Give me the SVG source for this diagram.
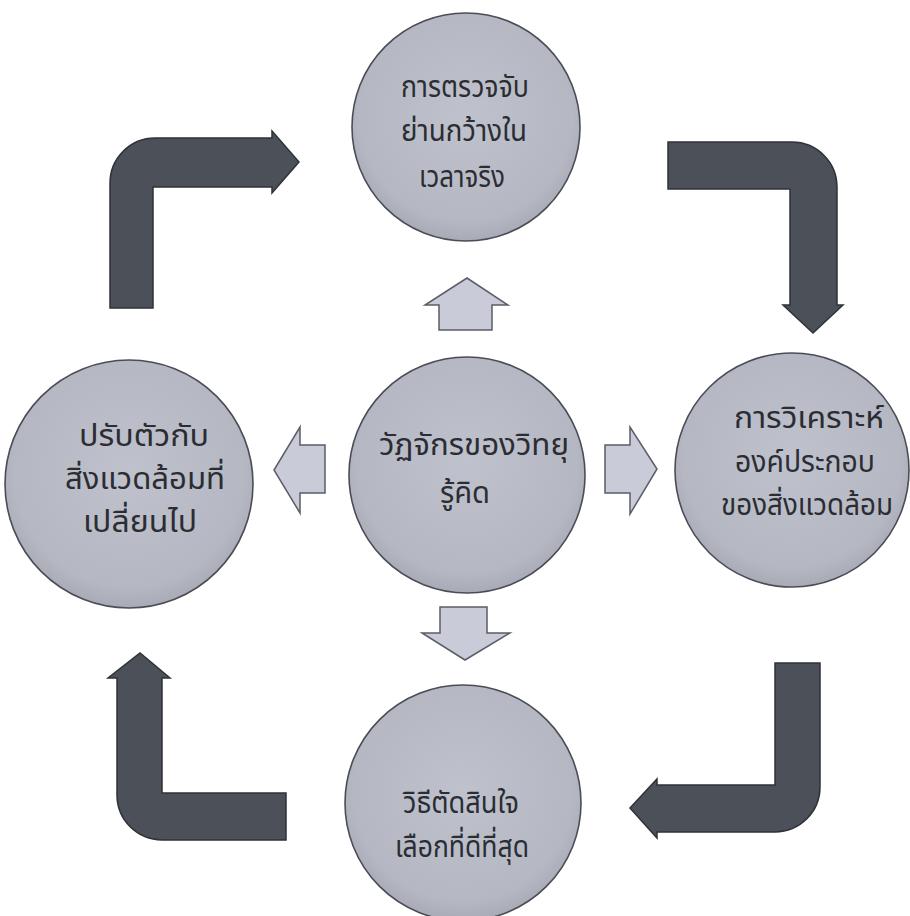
<svg xmlns="http://www.w3.org/2000/svg" width="910" height="916" viewBox="0 0 910 916">
  <defs>
    <radialGradient id="ballFill" cx="50%" cy="45%" r="55%">
      <stop offset="0" stop-color="#bfc2cc"/>
      <stop offset="0.85" stop-color="#b5b8c2"/>
      <stop offset="1" stop-color="#a8abb5"/>
    </radialGradient>
  </defs>
  <style>
    .ball { fill: url(#ballFill); stroke: #4a4d55; stroke-width: 1.6; }
    .label { font-family: "Noto Sans Thai", "Leelawadee UI", Tahoma, "Noto Sans", sans-serif; font-size: 30px; fill: #2b2d33; text-anchor: middle; }
    .bend { fill: #4c5159; stroke: #2f3238; stroke-width: 1.5; stroke-linejoin: miter; }
    .block { fill: #c9cbd9; stroke: #5a5d66; stroke-width: 1.5; stroke-linejoin: miter; }
  </style>
  <rect width="910" height="916" fill="#ffffff"/>

  <!-- connectors: outer cycle of bent arrows and the four spokes from the hub -->
  <g id="connectors">
    <path class="bend" d="M110 308 L110 183 A45 45 0 0 1 155 138 L272 138 L272 131 L299 162 L272 193 L272 187 L153 187 L153 308 Z"/>
    <path class="bend" d="M668 142 L792 142 A45 45 0 0 1 837 187 L837 305 L843 305 L813 333 L783 305 L790 305 L790 189 L668 189 Z"/>
    <path class="bend" d="M775 663 L820 663 L820 787 A45 45 0 0 1 775 832 L657 832 L657 838 L630 808 L657 779 L657 785 L775 785 Z"/>
    <path class="bend" d="M286 793 L162 793 L162 678 L170 678 L140 653 L108 678 L117 678 L117 795 A45 45 0 0 0 162 840 L286 840 Z"/>

    <path class="block" d="M439 330 L439 305 L425 305 L467 278 L508 305 L492 305 L492 330 Z"/>
    <path class="block" d="M605 445 L630 445 L630 427 L657 469 L630 514 L630 493 L605 493 Z"/>
    <path class="block" d="M325 445 L300 445 L300 427 L274 470 L300 513 L300 493 L325 493 Z"/>
    <path class="block" d="M440 607 L487 607 L487 633 L510 633 L465 660 L422 633 L440 633 Z"/>
  </g>

  <g id="node-sense">
    <circle class="ball" cx="466" cy="127" r="114"/>
    <text class="label" x="465" y="97" textLength="128" lengthAdjust="spacingAndGlyphs">การตรวจจับ</text>
    <text class="label" x="464" y="141" textLength="126" lengthAdjust="spacingAndGlyphs">ย่านกว้างใน</text>
    <text class="label" x="462" y="187" textLength="86" lengthAdjust="spacingAndGlyphs">เวลาจริง</text>
  </g>

  <g id="node-hub">
    <circle class="ball" cx="467" cy="475" r="118"/>
    <text class="label" x="474" y="455" textLength="190" lengthAdjust="spacingAndGlyphs">วัฏจักรของวิทยุ</text>
    <text class="label" x="465" y="503" textLength="50" lengthAdjust="spacingAndGlyphs">รู้คิด</text>
  </g>

  <g id="node-adapt">
    <circle class="ball" cx="129" cy="484" r="124"/>
    <text class="label" x="144" y="446" textLength="130" lengthAdjust="spacingAndGlyphs">ปรับตัวกับ</text>
    <text class="label" x="145" y="489" textLength="160" lengthAdjust="spacingAndGlyphs">สิ่งแวดล้อมที่</text>
    <text class="label" x="140" y="532" textLength="114" lengthAdjust="spacingAndGlyphs">เปลี่ยนไป</text>
  </g>

  <g id="node-analyze">
    <circle class="ball" cx="792" cy="470" r="117"/>
    <text class="label" x="809" y="428" textLength="150" lengthAdjust="spacingAndGlyphs">การวิเคราะห์</text>
    <text class="label" x="805" y="472" textLength="140" lengthAdjust="spacingAndGlyphs">องค์ประกอบ</text>
    <text class="label" x="807" y="515" textLength="172" lengthAdjust="spacingAndGlyphs">ของสิ่งแวดล้อม</text>
  </g>

  <g id="node-decide">
    <circle class="ball" cx="463" cy="803" r="118"/>
    <text class="label" x="461" y="813" textLength="116" lengthAdjust="spacingAndGlyphs">วิธีตัดสินใจ</text>
    <text class="label" x="462" y="857" textLength="134" lengthAdjust="spacingAndGlyphs">เลือกที่ดีที่สุด</text>
  </g>
</svg>
